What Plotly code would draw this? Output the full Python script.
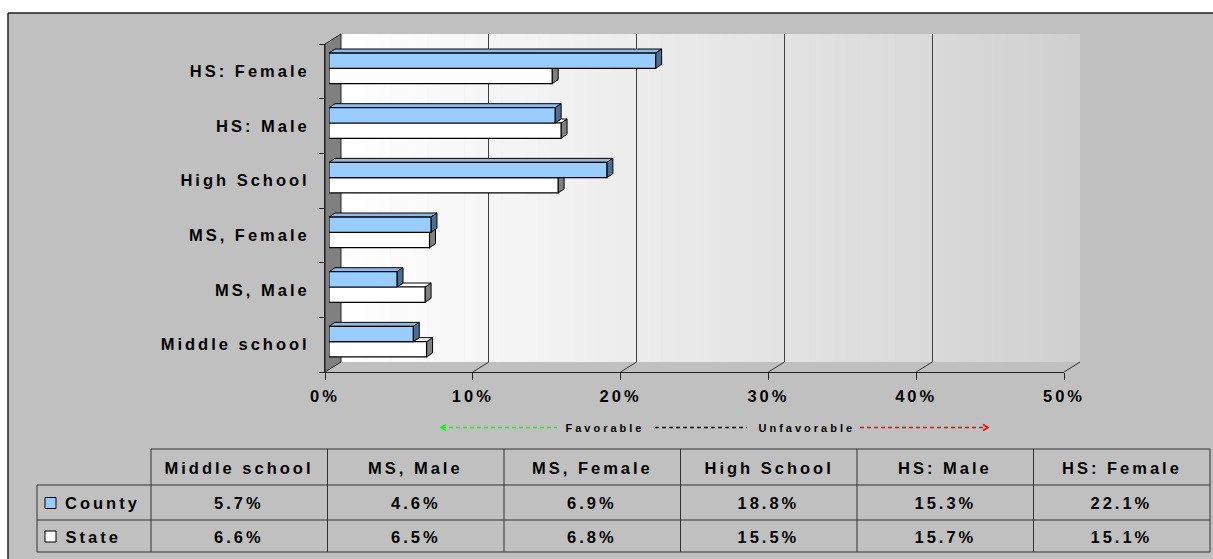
import plotly.graph_objects as go

# ---------------- data ----------------
categories = ["Middle school", "MS, Male", "MS, Female", "High School", "HS: Male", "HS: Female"]
county = [5.7, 4.6, 6.9, 18.8, 15.3, 22.1]
state = [6.6, 6.5, 6.8, 15.5, 15.7, 15.1]
series_names = ["County", "State"]
x_ticks = [0, 10, 20, 30, 40, 50]
x_tick_labels = ["0%", "10%", "20%", "30%", "40%", "50%"]
scale_left_label = "Favorable"
scale_right_label = "Unfavorable"

# ---------------- style ----------------
W, H = 1213, 559
FONT = "Liberation Sans, Arial, Helvetica, sans-serif"
LS = 3.0  # letter spacing (px) applied to all text
BLUE, BLUE_TOP, BLUE_SIDE = "#99CCFF", "#8CBCEC", "#506E93"
WHITE, WHITE_TOP, WHITE_SIDE = "#FFFFFF", "#FFFFFF", "#808080"
BG = "#C0C0C0"
XMAX = x_ticks[-1]

def fx(p):
    return p / W

def fy(p):
    return 1 - p / H

# geometry in pixels
FRONT_L, FRONT_R, FRONT_T, FRONT_B = 325, 1064, 44, 372
BACK_L, BACK_R, BACK_T, BACK_B = 341, 1080, 34, 362
BAR_L, BAR_R, BAR_T, BAR_B = 329, 1068, 41, 369
BW = 0.28                       # bar thickness in category units
DX = 6 * XMAX / (BAR_R - BAR_L)  # bar depth, x units
DY = 4 * len(categories) / (BAR_B - BAR_T)  # bar depth, y units

fig = go.Figure()
shapes = []
annotations = []

# outer chart area (kept inside the paper)
shapes.append(dict(type="rect", xref="paper", yref="paper", x0=fx(8), x1=1, y0=0, y1=fy(13),
                   fillcolor=BG, line=dict(width=0), layer="below"))
shapes.append(dict(type="line", xref="paper", yref="paper", x0=fx(8), x1=1, y0=fy(13), y1=fy(13),
                   line=dict(color="#202020", width=1.5), layer="below"))
shapes.append(dict(type="line", xref="paper", yref="paper", x0=fx(8), x1=fx(8), y0=0, y1=fy(13),
                   line=dict(color="#202020", width=1.5), layer="below"))

# back wall gradient
n_strips = 60
for i in range(n_strips):
    t = (i + 0.5) / n_strips
    c = int(round(255 - 47 * t))
    x0 = BACK_L + (BACK_R - BACK_L) * i / n_strips
    x1 = BACK_L + (BACK_R - BACK_L) * (i + 1) / n_strips + 0.6
    shapes.append(dict(type="rect", xref="paper", yref="paper", x0=fx(x0), x1=fx(min(x1, BACK_R)),
                       y0=fy(BACK_B), y1=fy(BACK_T), fillcolor=f"rgb({c},{c},{c})",
                       line=dict(width=0), layer="below"))

# side wall
shapes.append(dict(type="path", xref="paper", yref="paper", layer="below",
                   path=f"M {fx(FRONT_L)},{fy(FRONT_T)} L {fx(BACK_L)},{fy(BACK_T)} L {fx(BACK_L)},{fy(BACK_B)} "
                        f"L {fx(FRONT_L)},{fy(FRONT_B)} Z",
                   fillcolor="#808080", line=dict(color="#202020", width=1)))

# floor diagonals from front ticks to back gridlines
for v in x_ticks[1:]:
    xf = FRONT_L + (FRONT_R - FRONT_L) * v / XMAX
    xb = BACK_L + (BACK_R - BACK_L) * v / XMAX
    shapes.append(dict(type="line", xref="paper", yref="paper", layer="below",
                       x0=fx(xf), y0=fy(FRONT_B), x1=fx(xb), y1=fy(BACK_B),
                       line=dict(color="#303030", width=1)))

# ---- back wall grid subplot (x / y)
fig.add_trace(go.Scatter(x=[0], y=[0], xaxis="x", yaxis="y", mode="markers",
                         marker=dict(size=1, opacity=0), hoverinfo="skip", showlegend=False))

# ---- bars subplot (x2 / y2)
idx = list(range(len(categories)))
fig.add_trace(go.Bar(y=idx, x=state, orientation="h", xaxis="x2", yaxis="y2", name=series_names[1],
                     offset=-BW, width=BW, marker=dict(color=WHITE, line=dict(color="black", width=1.2)),
                     hoverinfo="skip", showlegend=False))
fig.add_trace(go.Bar(y=idx, x=county, orientation="h", xaxis="x2", yaxis="y2", name=series_names[0],
                     offset=0, width=BW, marker=dict(color=BLUE, line=dict(color="black", width=1.2)),
                     hoverinfo="skip", showlegend=False))

def face(path, color):
    shapes.append(dict(type="path", xref="x2", yref="y2", layer="below", path=path,
                       fillcolor=color, line=dict(color="black", width=1)))

for i, (c, s) in enumerate(zip(county, state)):
    face(f"M {s},{i - BW} L {s},{i} L {s + DX},{i + DY} L {s + DX},{i - BW + DY} Z", WHITE_SIDE)
    if s > c:
        face(f"M {c},{i} L {s},{i} L {s + DX},{i + DY} L {c + DX},{i + DY} Z", WHITE_TOP)
    face(f"M 0,{i + BW} L {c},{i + BW} L {c + DX},{i + BW + DY} L {DX},{i + BW + DY} Z", BLUE_TOP)
    face(f"M {c},{i} L {c},{i + BW} L {c + DX},{i + BW + DY} L {c + DX},{i + DY} Z", BLUE_SIDE)

# ---- front axes subplot (x3 / y3)
fig.add_trace(go.Scatter(x=[0] * len(categories), y=categories, xaxis="x3", yaxis="y3", mode="markers",
                         marker=dict(size=1, opacity=0), hoverinfo="skip", showlegend=False))

tickfont = dict(family=FONT, size=16.5, color="black", weight="bold")

# ---- favourable / unfavourable scale
YS = 427.5
def hline(x0, x1, color):
    shapes.append(dict(type="line", xref="paper", yref="paper", x0=fx(x0), x1=fx(x1), y0=fy(YS), y1=fy(YS),
                       line=dict(color=color, width=1.6, dash="4px,3px")))
hline(442, 557, "#00FF00")
hline(655, 747, "#000000")
hline(860, 986, "#FF0000")
shapes.append(dict(type="path", xref="paper", yref="paper",
                   path=f"M {fx(446)},{fy(YS - 3)} L {fx(441)},{fy(YS)} L {fx(446)},{fy(YS + 3)}",
                   line=dict(color="#00FF00", width=1.5)))
shapes.append(dict(type="path", xref="paper", yref="paper",
                   path=f"M {fx(983)},{fy(YS - 3)} L {fx(988)},{fy(YS)} L {fx(983)},{fy(YS + 3)}",
                   line=dict(color="#FF0000", width=1.5)))
small = dict(family=FONT, size=11, color="black", weight="bold")
annotations.append(dict(x=fx(605), y=fy(YS), xref="paper", yref="paper", text=scale_left_label,
                        showarrow=False, font=small, xanchor="center", yanchor="middle"))
annotations.append(dict(x=fx(807), y=fy(YS), xref="paper", yref="paper", text=scale_right_label,
                        showarrow=False, font=small, xanchor="center", yanchor="middle"))

# ---- data table
TBL_L, COL0, TBL_R = 37, 151, 1210
ROWS = [449, 485, 520, 552]
ncol = len(categories)
col_w = (TBL_R - COL0) / ncol
line_c = "#303030"

def seg(x0, y0, x1, y1):
    shapes.append(dict(type="line", xref="paper", yref="paper", x0=fx(x0), y0=fy(y0), x1=fx(x1), y1=fy(y1),
                       line=dict(color=line_c, width=1)))

seg(COL0, ROWS[0], TBL_R, ROWS[0])
for r in ROWS[1:]:
    seg(TBL_L, r, TBL_R, r)
seg(TBL_L, ROWS[1], TBL_L, ROWS[3])
for j in range(ncol + 1):
    xx = COL0 + col_w * j
    seg(xx, ROWS[0], xx, ROWS[3])

cellfont = dict(family=FONT, size=16.5, color="black", weight="bold")
for j, cat in enumerate(categories):
    xc = COL0 + col_w * (j + 0.5)
    annotations.append(dict(x=fx(xc), y=fy((ROWS[0] + ROWS[1]) / 2 + 0.5), xref="paper", yref="paper",
                            text=cat, showarrow=False, font=cellfont, xanchor="center", yanchor="middle"))
    for r, vals in enumerate([county, state]):
        annotations.append(dict(x=fx(xc), y=fy((ROWS[r + 1] + ROWS[r + 2]) / 2 + 0.5), xref="paper",
                                yref="paper", text=f"{vals[j]:.1f}%", showarrow=False, font=cellfont,
                                xanchor="center", yanchor="middle"))

for r, (name, col) in enumerate(zip(series_names, [BLUE, WHITE])):
    yc = (ROWS[r + 1] + ROWS[r + 2]) / 2 + 0.5
    shapes.append(dict(type="rect", xref="paper", yref="paper", x0=fx(45), x1=fx(56),
                       y0=fy(yc + 5.5), y1=fy(yc - 5.5), fillcolor=col, line=dict(color="black", width=1)))
    annotations.append(dict(x=fx(63 + len(name) * LS / 2), y=fy(yc), xref="paper", yref="paper", text=name,
                            showarrow=False, font=cellfont, xanchor="left", yanchor="middle"))

fig.update_layout(
    width=W, height=H, autosize=False,
    margin=dict(l=0, r=0, t=0, b=0, pad=0),
    paper_bgcolor="white", plot_bgcolor="rgba(0,0,0,0)",
    barmode="overlay", showlegend=False,
    shapes=shapes, annotations=annotations,
    xaxis=dict(domain=[fx(BACK_L), fx(BACK_R)], range=[0, XMAX], tickvals=x_ticks, showgrid=True,
               gridcolor="#404040", gridwidth=1, showticklabels=False, ticks="", zeroline=False,
               showline=False, anchor="y", fixedrange=True, automargin=False),
    yaxis=dict(domain=[fy(BACK_B), fy(BACK_T)], range=[0, 1], showgrid=False, showticklabels=False,
               ticks="", zeroline=False, showline=False, anchor="x", fixedrange=True, automargin=False),
    xaxis2=dict(domain=[fx(BAR_L), fx(BAR_R)], range=[0, XMAX], visible=False, anchor="y2", fixedrange=True,
                automargin=False),
    yaxis2=dict(domain=[fy(BAR_B), fy(BAR_T)], range=[-0.5, len(categories) - 0.5], visible=False,
                anchor="x2", fixedrange=True, automargin=False),
    xaxis3=dict(domain=[fx(FRONT_L), fx(FRONT_R)], range=[0, XMAX], tickmode="array", tickvals=x_ticks,
                ticktext=x_tick_labels, ticks="outside", ticklen=7, tickcolor="#202020", showline=True,
                linecolor="#202020", linewidth=1, showgrid=False, zeroline=False, tickfont=tickfont,
                anchor="y3", ticklabelstandoff=2, fixedrange=True, automargin=False),
    yaxis3=dict(domain=[fy(FRONT_B), fy(FRONT_T)], type="category", categoryorder="array",
                categoryarray=categories, range=[-0.5, len(categories) - 0.5], tickson="boundaries",
                ticks="outside", ticklen=5, tickcolor="#202020", showline=True, linecolor="#202020",
                linewidth=1, showgrid=False, zeroline=False, tickfont=tickfont, anchor="x3",
                ticklabelstandoff=11, fixedrange=True, automargin=False),
)

post = """
document.documentElement.style.margin = '0';
document.documentElement.style.overflow = 'hidden';
document.body.style.margin = '0';
document.body.style.padding = '0';
document.body.style.overflow = 'hidden';
document.querySelectorAll('.js-plotly-plot svg text').forEach(function(t){
  t.style.letterSpacing = '%spx';
});
""" % LS
fig.write_html("out.html", config={"displayModeBar": False, "staticPlot": True}, post_script=post)
